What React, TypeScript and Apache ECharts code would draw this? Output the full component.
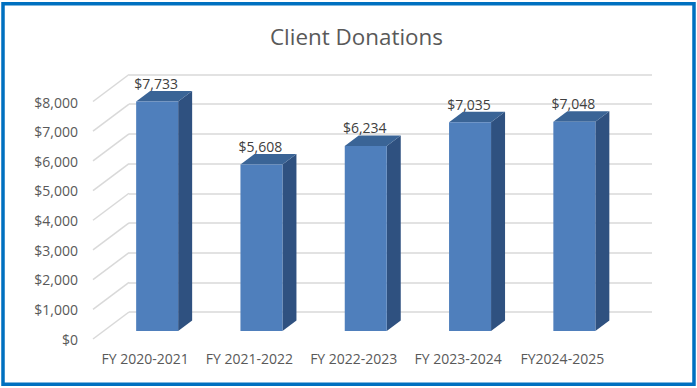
import React, { useEffect, useRef } from "react";
import * as echarts from "echarts";

const categories = ["FY 2020-2021", "FY 2021-2022", "FY 2022-2023", "FY 2023-2024", "FY2024-2025"];
const donations = [7733, 5608, 6234, 7035, 7048];
const ticks = [0, 1000, 2000, 3000, 4000, 5000, 6000, 7000, 8000];
const title = "Client Donations";

const FONT = "'Open Sans', sans-serif";
const money = (v: number) => "$" + v.toLocaleString("en-US");

export default function App() {
  const ref = useRef<HTMLDivElement>(null);
  useEffect(() => {
    const chart = echarts.init(ref.current!, undefined, { renderer: "svg" });
    const hiddenX = { type: "category", data: categories, axisLine: { show: false }, axisTick: { show: false }, axisLabel: { show: false } };
    const hiddenY = { type: "value", min: 0, max: 8000, interval: 1000, axisLine: { show: false }, axisTick: { show: false }, axisLabel: { show: false }, splitLine: { show: false } };
    chart.setOption({
      animation: false,
      backgroundColor: "#ffffff",
      title: {
        text: title, left: 265, top: 20,
        textStyle: { fontFamily: FONT, fontSize: 22.4, fontWeight: "normal", color: "#595959" },
      },
      graphic: [{
        type: "rect", shape: { x: 3, y: 3.75, width: 691, height: 380.5 }, silent: true,
        style: { fill: "none", stroke: "#0070C0", lineWidth: 3.5 },
      }],
      grid: [
        { left: 129, width: 523, top: 74.5, height: 237.5 },
        { left: 93, width: 521.5, top: 102, height: 237 },
        { left: 105, width: 521.5, top: 93.5, height: 237.5 },
      ],
      xAxis: [
        { ...hiddenX, gridIndex: 0 },
        {
          ...hiddenX, gridIndex: 1,
          axisLabel: { show: true, interval: 0, margin: 12, fontFamily: FONT, fontSize: 14, color: "#595959" },
        },
        { ...hiddenX, gridIndex: 2 },
      ],
      yAxis: [
        { ...hiddenY, gridIndex: 0, splitLine: { show: true, lineStyle: { color: "#D9D9D9", width: 1.5 } } },
        {
          ...hiddenY, gridIndex: 1,
          axisLabel: { show: true, margin: 15, fontFamily: FONT, fontSize: 14, color: "#595959", formatter: (v: number) => money(v) },
        },
        { ...hiddenY, gridIndex: 2 },
      ],
      series: [
        {
          type: "custom", xAxisIndex: 0, yAxisIndex: 0, silent: true, z: 1,
          data: ticks.map((t) => [0, t]),
          renderItem: (_p: any, api: any) => {
            const p = api.coord([0, api.value(1)]);
            const y = p[1];
            return {
              type: "line",
              shape: { x1: 93, y1: y + 27, x2: 129, y2: y },
              style: { stroke: "#D9D9D9", lineWidth: 1.5 },
            };
          },
        },
        {
          type: "custom", xAxisIndex: 2, yAxisIndex: 2, silent: true, z: 3,
          data: donations.map((v, i) => [i, v]),
          renderItem: (_p: any, api: any) => {
            const v = api.value(1);
            const top = api.coord([api.value(0), v]);
            const base = api.coord([api.value(0), 0]);
            const w = 42, dx = 14, dy = 10.5;
            const l = top[0] - w / 2, r = top[0] + w / 2;
            return {
              type: "group",
              children: [
                {
                  type: "polygon",
                  shape: { points: [[r, top[1]], [r + dx, top[1] - dy], [r + dx, base[1] - dy], [r, base[1]]] },
                  style: { fill: "#2F5180" },
                },
                {
                  type: "polygon",
                  shape: { points: [[l, top[1]], [l + dx, top[1] - dy], [r + dx, top[1] - dy], [r, top[1]]] },
                  style: { fill: "#3A6496" },
                },
                { type: "rect", shape: { x: l, y: top[1], width: w, height: base[1] - top[1] }, style: { fill: "#4F7FBC" } },
                {
                  type: "text",
                  style: {
                    text: money(v), x: top[0] - 1, y: top[1] - 18, align: "center", verticalAlign: "middle",
                    fontFamily: FONT, fontSize: 14, fill: "#404040",
                  },
                },
              ],
            };
          },
        },
      ],
    });
    return () => chart.dispose();
  }, []);
  return <div ref={ref} style={{ position: "fixed", left: 0, top: 0, width: 697, height: 388 }} />;
}
